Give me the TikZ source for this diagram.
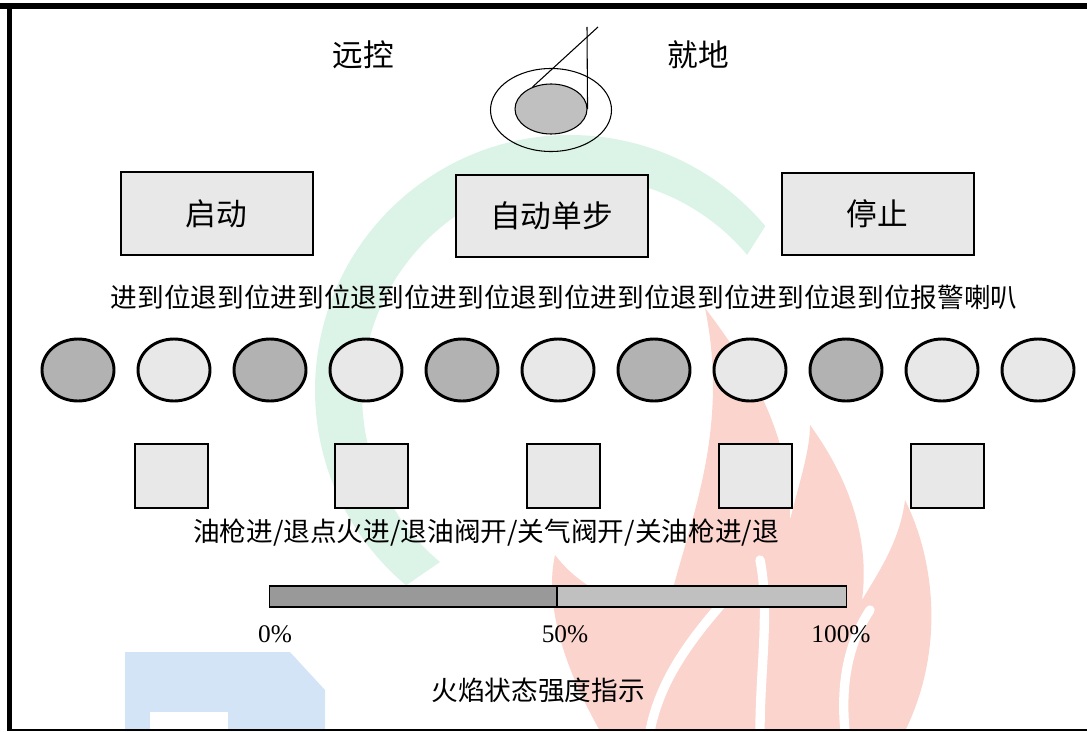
\documentclass[tikz,border=0pt]{standalone}
\usepackage{fontspec}
\setmainfont{Liberation Serif}
\newfontfamily\cjk{Noto Sans CJK SC}
\usetikzlibrary{shapes.geometric}
\definecolor{botao}{RGB}{232,232,232}
\definecolor{lampescura}{RGB}{178,178,178}
\definecolor{barraesq}{RGB}{153,153,153}
\definecolor{barradir}{RGB}{192,192,192}
\definecolor{marcaverde}{RGB}{220,244,232}
\definecolor{marcavermelha}{RGB}{250,212,205}
\definecolor{marcaazul}{RGB}{212,228,247}

\begin{document}
\begin{tikzpicture}[x=0.75pt, y=-0.75pt,
  rotulo/.style={font=\cjk\fontsize{20}{24}\selectfont, inner sep=0pt},
  botaobox/.style={draw, line width=1.5pt, fill=botao, minimum width=144pt, minimum height=62pt, font=\cjk\fontsize{23}{28}\selectfont},
  lampada/.style={ellipse, draw, line width=2.2pt, minimum width=54pt, minimum height=46.5pt, inner sep=0pt},
  chave/.style={draw, line width=1.5pt, fill=botao, minimum width=54.75pt, minimum height=48pt, inner sep=0pt},
  pct/.style={font=\fontsize{19}{23}\selectfont, inner sep=0pt},
  risco/.style={white, line width=7pt, line cap=round}]
\useasboundingbox (0,0) rectangle (1087,731);

% Marca d'agua ao fundo
\fill[marcaverde] (570,390) ++(320:255) arc[start angle=320, end angle=130, radius=255]
  -- (440,562) arc[start angle=130, end angle=320, radius=218] -- cycle;  % arco verde
\fill[marcavermelha] (600,731) .. controls (560,660) and (545,600) .. (555,555)
  .. controls (590,600) and (640,610) .. (670,600) .. controls (690,520) and (730,430) .. (705,308)
  .. controls (760,380) and (790,440) .. (790,520) .. controls (800,480) and (810,450) .. (810,425)
  .. controls (850,480) and (870,540) .. (862,600) .. controls (880,570) and (900,540) .. (905,500)
  .. controls (935,560) and (945,650) .. (905,731) -- cycle;  % chama vermelha
\draw[risco] (650,731) .. controls (660,680) and (690,640) .. (725,600);  % frestas da chama
\draw[risco] (760,731) .. controls (760,670) and (770,610) .. (760,560);
\draw[risco] (845,731) .. controls (840,680) and (850,640) .. (870,610);
\fill[marcaazul] (125,731) -- (125,652) -- (290,652) -- (325,690) -- (325,731) -- cycle;  % bloco azul
\fill[white] (150,712) rectangle (228,731);

% Moldura
\draw[line width=4.5pt] (0,6) -- (1087,6);
\draw[line width=4pt] (9.5,6) -- (9.5,731);
\draw[line width=1.5pt] (9.5,729.5) -- (1087,729.5);

% Chave remoto / local
\node[rotulo, font=\cjk\fontsize{23}{28}\selectfont] (remoto) at (363,55) {远控};
\node[rotulo, font=\cjk\fontsize{23}{28}\selectfont] (local) at (698,55) {就地};
\node[ellipse, draw, line width=0.8pt, minimum width=90.75pt, minimum height=62.25pt] (aro) at (551,110) {};
\node[ellipse, draw, line width=0.8pt, fill=barradir, minimum width=54pt, minimum height=37.5pt] (manopla) at (551,109) {};
\coordinate (hasteA) at (587,27);
\coordinate (hasteB) at (598,27);
\draw[line width=0.8pt] (manopla.east) -- (hasteA);
\draw[line width=0.8pt] (manopla.130) -- (hasteB);

% Botoes
\node[botaobox] (partida) at (216.5,213.5) {启动};
\node[botaobox] (passo) at (551.5,216) {自动单步};
\node[botaobox] (parada) at (877.5,214) {停止};

% Lampadas de posicao
\node[rotulo] (sinais) at (564,297) {进到位退到位进到位退到位进到位退到位进到位退到位进到位退到位报警喇叭};
\foreach \i in {0,...,10} {
  \pgfmathtruncatemacro{\impar}{mod(\i,2)+(\i>8)}
  \ifnum\impar=0
    \node[lampada, fill=lampescura] (lamp\i) at (78+96*\i,370) {};
  \else
    \node[lampada, fill=botao] (lamp\i) at (78+96*\i,370) {};
  \fi
}

% Chaves de comando
\node[chave] (chave1) at (171.5,476) {};
\node[chave] (chave2) at (371.5,476) {};
\node[chave] (chave3) at (563.5,476) {};
\node[chave] (chave4) at (755.5,476) {};
\node[chave] (chave5) at (947.5,476) {};
\node[rotulo] (comandos) at (486,533) {油枪进/退点火进/退油阀开/关气阀开/关油枪进/退};

% Barra de intensidade da chama
\node[draw, line width=1pt, fill=barraesq, minimum width=215.25pt, minimum height=15.75pt, inner sep=0pt, anchor=east] (barraA) at (557,596.5) {};
\node[draw, line width=1pt, fill=barradir, minimum width=216.75pt, minimum height=15.75pt, inner sep=0pt, anchor=west] (barraB) at (557,596.5) {};
\node[pct] (p0) at (275,634) {0\%};
\node[pct] (p50) at (565,634) {50\%};
\node[pct] (p100) at (841,634) {100\%};
\node[rotulo] (titulo) at (538,690) {火焰状态强度指示};
\end{tikzpicture}
\end{document}
